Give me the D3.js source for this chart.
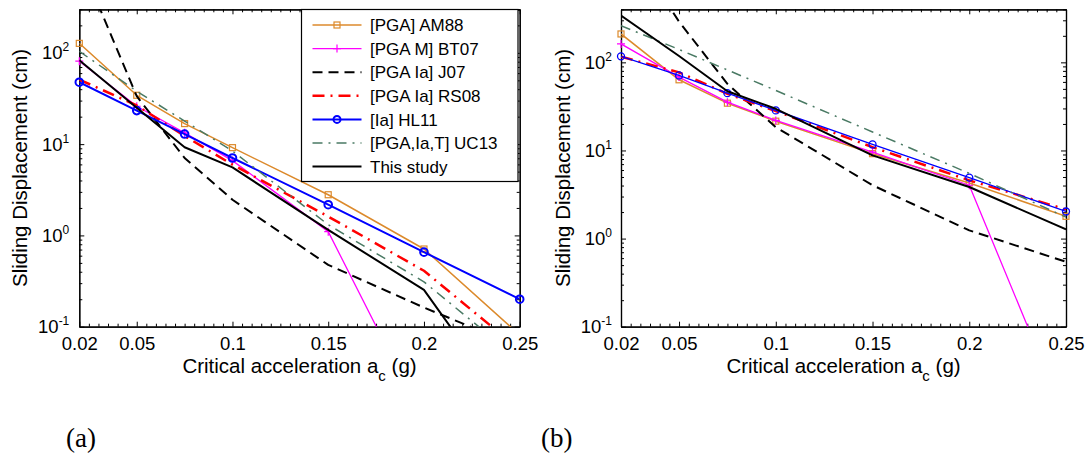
<!DOCTYPE html>
<html>
<head>
<meta charset="utf-8">
<script src="https://cdn.jsdelivr.net/npm/d3@7"></script>
<style>
  body { margin: 0; background: #fff; }
  svg text { font-family: "Liberation Sans", Arial, Helvetica, sans-serif; fill: #000; }
</style>
</head>
<body>
<svg id="fig" width="1086" height="461"></svg>
<script>
// Critical acceleration values (g) at which every model is evaluated
const accel = [0.02, 0.05, 0.075, 0.1, 0.15, 0.2, 0.25];
const xTickValues = [0.02, 0.05, 0.1, 0.15, 0.2, 0.25];
const xTickLabels = ["0.02", "0.05", "0.1", "0.15", "0.2", "0.25"];
const yTickExponents = [-1, 0, 1, 2];
const seriesLabels = ["[PGA] AM88", "[PGA M] BT07", "[PGA Ia] J07", "[PGA Ia] RS08",
                      "[Ia] HL11", "[PGA,Ia,T] UC13", "This study"];
const panelLabels = ["(a)", "(b)"];

// Panel (a): sliding displacement (cm)
const am88A  = [127, 34.3, 16.8, 9.15, 2.79, 0.71, 0.081];
const bt07A  = [81, 26, 13.3, 6.6, 1.10, 0.0093, 0.0001];
const j07A   = [1050, 33.5, 7.05, 2.46, 0.475, 0.162, 0.06];
const rs08A  = [51, 26.5, 12.3, 5.96, 1.61, 0.41, 0.056];
const hl11A  = [47.7, 23.3, 12.9, 7.05, 2.17, 0.656, 0.20];
const uc13A  = [104, 38, 17.9, 8.4, 1.31, 0.31, 0.043];
const studyA = [83, 25, 9.25, 5.56, 1.15, 0.253, 0.0087];

// Panel (b): sliding displacement (cm)
const am88B  = [210, 63.4, 34.4, 21.5, 9.2, 4.27, 1.79];
const bt07B  = [162, 68, 35.3, 21.9, 9.6, 4.03, 0.0089];
const j07B   = [3000, 290, 57, 18.4, 4.03, 1.24, 0.545];
const rs08B  = [116, 77, 44, 28, 10.9, 4.58, 2.14];
const hl11B  = [117, 71, 44.7, 28.5, 11.7, 4.92, 2.03];
const uc13B  = [261, 140, 82, 48, 16.2, 5.5, 1.75];
const studyB = [339, 118, 47, 29.7, 8.8, 3.85, 1.27];

// Line styles, in the same order as seriesLabels
const styles = [
  { color: "#dc8a2c", width: 1.5, dash: null,        marker: "square" },
  { color: "#ff00ff", width: 1.3, dash: null,        marker: "plus" },
  { color: "#000000", width: 2,   dash: "10,6",      marker: null },
  { color: "#ff0000", width: 2.5, dash: "12,6,2,6",  marker: null },
  { color: "#0000ff", width: 2,   dash: null,        marker: "circle" },
  { color: "#4a7a64", width: 1.5, dash: "10,6,2,6",  marker: null },
  { color: "#000000", width: 2,   dash: null,        marker: null }
];

const svg = d3.select("#fig");
svg.append("rect").attr("width", 1086).attr("height", 461).attr("fill", "#fff");

function drawMarker(g, type, cx, cy, color, s, sw) {
  if (type === "square") {
    g.append("rect").attr("x", cx - s).attr("y", cy - s).attr("width", 2 * s).attr("height", 2 * s)
      .attr("fill", "none").attr("stroke", color).attr("stroke-width", sw);
  } else if (type === "circle") {
    g.append("circle").attr("cx", cx).attr("cy", cy).attr("r", s + 0.5)
      .attr("fill", "none").attr("stroke", color).attr("stroke-width", sw);
  } else if (type === "plus") {
    g.append("path").attr("d", `M${cx - s - 1},${cy}H${cx + s + 1}M${cx},${cy - s - 1}V${cy + s + 1}`)
      .attr("stroke", color).attr("stroke-width", sw).attr("fill", "none");
  }
}

function drawPanel(cfg) {
  const x = d3.scaleLinear().domain([accel[0], accel[accel.length - 1]]).range([cfg.left, cfg.right]);
  const y = d3.scaleLog().domain([0.1, cfg.yMax]).range([cfg.bottom, cfg.top]);
  const g = svg.append("g");

  const clipId = "clip-" + cfg.id;
  svg.append("clipPath").attr("id", clipId).append("rect")
    .attr("x", cfg.left).attr("y", cfg.top)
    .attr("width", cfg.right - cfg.left).attr("height", cfg.bottom - cfg.top);

  // minor and major ticks on all four sides (pointing inward)
  const minorX = d3.range(0, 47).map(k => 0.02 + k * 0.005)
    .filter(v => v <= 0.2501 && !xTickValues.some(t => Math.abs(t - v) < 1e-6));
  const minorY = [];
  for (let e = -1; e <= 2; e++) for (let m = 2; m <= 9; m++) {
    const v = m * Math.pow(10, e);
    if (v <= cfg.yMax * 1.0001) minorY.push(v);
  }
  const majorY = yTickExponents.map(e => Math.pow(10, e));

  const axisFont = (sel) => sel.attr("font-family", "Liberation Sans, Arial, sans-serif").attr("font-size", 18.5);

  g.append("g").attr("transform", `translate(0,${cfg.bottom})`)
    .call(d3.axisBottom(x).tickValues(minorX).tickSize(-3).tickSizeOuter(0).tickFormat(""));
  g.append("g").attr("transform", `translate(0,${cfg.top})`)
    .call(d3.axisTop(x).tickValues(minorX).tickSize(-3).tickSizeOuter(0).tickFormat(""));
  g.append("g").attr("transform", `translate(0,${cfg.top})`)
    .call(d3.axisTop(x).tickValues(xTickValues).tickSize(-5).tickSizeOuter(0).tickFormat(""));
  g.append("g").attr("transform", `translate(0,${cfg.bottom})`)
    .call(d3.axisBottom(x).tickValues(xTickValues).tickSize(-5).tickSizeOuter(0).tickPadding(10)
      .tickFormat((d, i) => xTickLabels[i]))
    .call(axisFont);

  g.append("g").attr("transform", `translate(${cfg.left},0)`)
    .call(d3.axisLeft(y).tickValues(minorY).tickSize(-3).tickSizeOuter(0).tickFormat(""));
  g.append("g").attr("transform", `translate(${cfg.right},0)`)
    .call(d3.axisRight(y).tickValues(minorY).tickSize(-3).tickSizeOuter(0).tickFormat(""));
  g.append("g").attr("transform", `translate(${cfg.right},0)`)
    .call(d3.axisRight(y).tickValues(majorY).tickSize(-5).tickSizeOuter(0).tickFormat(""));
  const yAx = g.append("g").attr("transform", `translate(${cfg.left},0)`)
    .call(d3.axisLeft(y).tickValues(majorY).tickSize(-5).tickSizeOuter(0).tickPadding(cfg.yPad)
      .tickFormat(() => ""))
    .call(axisFont);
  yAx.selectAll(".tick text").each(function (d, i) {
    const t = d3.select(this);
    t.append("tspan").text("10");
    t.append("tspan").attr("font-size", 12).attr("dy", -8).text(String(yTickExponents[i]));
  });
  g.selectAll(".domain").attr("stroke", "#000").attr("stroke-width", 1.2);
  g.selectAll(".tick line").attr("stroke", "#000").attr("stroke-width", 1);

  // series
  const line = d3.line().x((d, i) => x(accel[i])).y(d => y(d));
  const plot = g.append("g");
  cfg.series.forEach((vals, k) => {
    const st = styles[k];
    plot.append("path").attr("d", line(vals))
      .attr("clip-path", `url(#${clipId})`)
      .attr("fill", "none").attr("stroke", st.color)
      .attr("stroke-width", k === 4 ? cfg.blueWidth : st.width)
      .attr("stroke-dasharray", st.dash)
      .attr("stroke-linejoin", "round");
    if (st.marker) {
      vals.forEach((v, i) => {
        if (v >= 0.1 && v <= cfg.yMax) {
          drawMarker(plot, st.marker, x(accel[i]), y(v), st.color,
            st.marker === "circle" ? cfg.circleR : 3, st.marker === "circle" ? cfg.blueWidth : 1.2);
        }
      });
    }
  });

  // axis titles
  const xt = svg.append("text").attr("x", (cfg.left + cfg.right) / 2).attr("y", 373)
    .attr("text-anchor", "middle").attr("font-size", 20.5);
  xt.append("tspan").text("Critical acceleration a");
  xt.append("tspan").attr("font-size", 15).attr("dy", 8).text("c");
  xt.append("tspan").attr("dy", -8).text(" (g)");

  svg.append("text")
    .attr("transform", `translate(${cfg.yTitleX},${(cfg.top + cfg.bottom) / 2}) rotate(-90)`)
    .attr("text-anchor", "middle").attr("font-size", 20.5)
    .text("Sliding Displacement (cm)");

  svg.append("text").attr("x", cfg.tagX).attr("y", 447)
    .attr("font-size", 27)
    .style("font-family", "'Liberation Serif', 'Times New Roman', serif")
    .text(cfg.tag);

  if (cfg.legend) {
    const lg = svg.append("g");
    lg.append("rect").attr("x", 301.5).attr("y", 9.5).attr("width", 216.5).attr("height", 172)
      .attr("fill", "#fff").attr("stroke", "#000").attr("stroke-width", 1.2);
    seriesLabels.forEach((lab, k) => {
      const st = styles[k];
      const yy = 25 + k * 23.6;
      lg.append("line").attr("x1", 312.5).attr("x2", 361.5).attr("y1", yy).attr("y2", yy)
        .attr("stroke", st.color).attr("stroke-width", st.width).attr("stroke-dasharray", st.dash);
      if (st.marker) drawMarker(lg, st.marker, 337, yy, st.color, 3, st.marker === "circle" ? 2 : 1.2);
      lg.append("text").attr("x", 370).attr("y", yy).attr("dy", "0.36em").attr("font-size", 17).text(lab);
    });
  }
}

drawPanel({
  id: "a", left: 79.3, right: 519.7, top: 9.3, bottom: 326.7, yMax: 300, yPad: 10,
  yTitleX: 26.5, tagX: 66, tag: panelLabels[0], circleR: 3.3, blueWidth: 2, legend: true,
  series: [am88A, bt07A, j07A, rs08A, hl11A, uc13A, studyA]
});
drawPanel({
  id: "b", left: 621, right: 1066, top: 9.3, bottom: 326.7, yMax: 400, yPad: 9,
  yTitleX: 569.5, tagX: 541, tag: panelLabels[1], circleR: 3, blueWidth: 1.3, legend: false,
  series: [am88B, bt07B, j07B, rs08B, hl11B, uc13B, studyB]
});
</script>
</body>
</html>
